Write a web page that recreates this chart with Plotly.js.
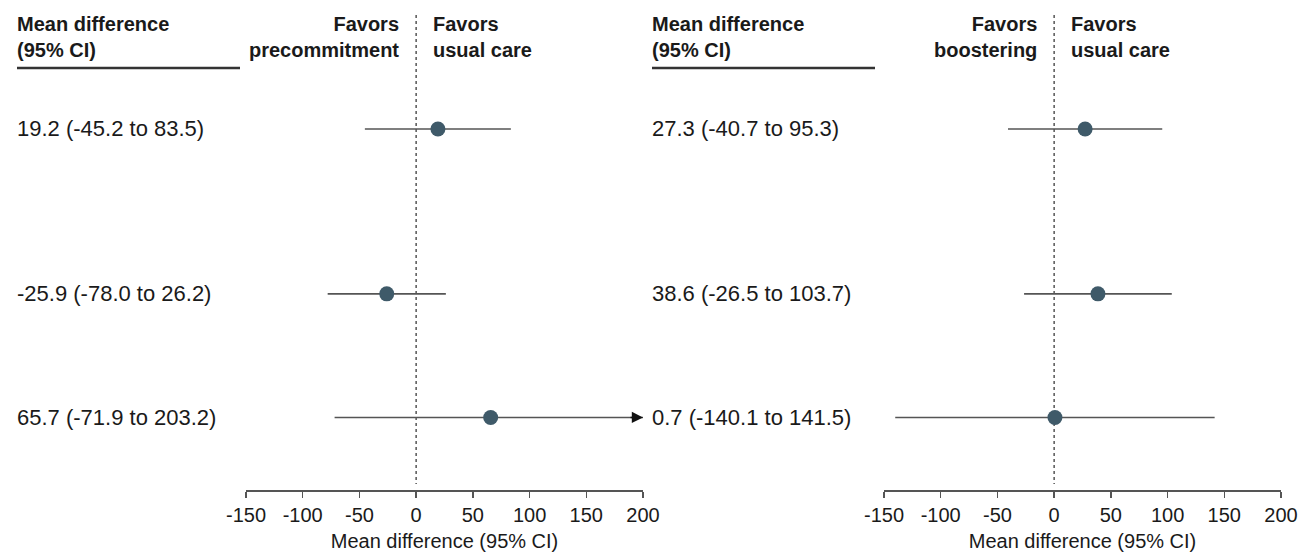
<!DOCTYPE html>
<html>
<head>
<meta charset="utf-8">
<script src="https://cdn.plot.ly/plotly-3.0.1.min.js"></script>
<style>html,body{margin:0;padding:0;background:#fff;}#chart{width:1301px;height:552px;}</style>
</head>
<body>
<div id="chart"></div>
<script>
// ---- data ----
const leftEstimate = [19.2, -25.9, 65.7];
const leftLower    = [-45.2, -78.0, -71.9];
const leftUpper    = [83.5, 26.2, 203.2];
const rightEstimate = [27.3, 38.6, 0.7];
const rightLower    = [-40.7, -26.5, -140.1];
const rightUpper    = [95.3, 103.7, 141.5];
const tickValues = [-150, -100, -50, 0, 50, 100, 150, 200];
const tickLabels = ['-150', '-100', '-50', '0', '50', '100', '150', '200'];
const leftFavors  = ['Favors<br>precommitment', 'Favors<br>usual care'];
const rightFavors = ['Favors<br>boostering', 'Favors<br>usual care'];
const headerText = 'Mean difference<br>(95% CI)';
const axisTitle = 'Mean difference (95% CI)';

// ---- layout constants ----
const W = 1301, H = 552;
const rowSlot = [0, 4, 7];           // vertical slot of each outcome row
const xMin = -150, xMax = 200;
const FONT = 'Liberation Sans, Arial, sans-serif';
const TXT = '#1a1a1a';
const DOT = '#3f5a69';
const LINE = '#555555';
const px = v => v / W;
const py = v => 1 - v / H;

function fmt(v){ return v.toFixed(1); }
function labels(est, lo, hi){ return est.map((e,i)=> fmt(e)+' ('+fmt(lo[i])+' to '+fmt(hi[i])+')'); }

function ciTrace(lo, hi, xa, ya){
  const xs = [], ys = [];
  lo.forEach((l,i)=>{ xs.push(Math.max(l,xMin), Math.min(hi[i],xMax), null); ys.push(rowSlot[i], rowSlot[i], null); });
  return {x: xs, y: ys, xaxis: xa, yaxis: ya, mode: 'lines', line: {color: LINE, width: 1.6}, hoverinfo: 'skip', showlegend: false};
}
function dotTrace(est, xa, ya){
  return {x: est, y: rowSlot.slice(0, est.length), xaxis: xa, yaxis: ya, mode: 'markers',
    marker: {color: DOT, size: 15, line: {width: 0}}, showlegend: false, cliponaxis: false};
}

const data = [
  ciTrace(leftLower, leftUpper, 'x', 'y'),
  dotTrace(leftEstimate, 'x', 'y'),
  ciTrace(rightLower, rightUpper, 'x2', 'y2'),
  dotTrace(rightEstimate, 'x2', 'y2')
];

const yRange = [8.76, -3.13];
const yDomain = [1 - 490 / H, 1];
function xAxis(domain, anchor){
  return {domain: domain, anchor: anchor, range: [xMin, xMax], showgrid: false, zeroline: false,
    showline: true, linecolor: LINE, linewidth: 1.5, ticks: 'outside', ticklen: 6, tickwidth: 1.5, tickcolor: LINE,
    tickvals: tickValues, ticktext: tickLabels, tickfont: {family: FONT, size: 20, color: TXT},
    title: {text: axisTitle, font: {family: FONT, size: 20, color: TXT}, standoff: 9}};
}
function yAxis(anchor){
  return {domain: yDomain, anchor: anchor, range: yRange, visible: false, showgrid: false, zeroline: false};
}

const annotations = [];
const shapes = [];
function panel(xa, ya, est, lo, hi, favors, textX, ulStart, ulEnd){
  const lab = labels(est, lo, hi);
  lab.forEach((t,i)=> annotations.push({xref: 'paper', yref: ya, x: px(textX), y: rowSlot[i], text: t,
    showarrow: false, xanchor: 'left', yanchor: 'middle', font: {family: FONT, size: 22, color: TXT}}));
  annotations.push({xref: 'paper', yref: 'paper', x: px(textX), y: py(37), text: '<b>'+headerText+'</b>',
    showarrow: false, xanchor: 'left', yanchor: 'middle', align: 'left', font: {family: FONT, size: 20, color: TXT}});
  annotations.push({xref: xa, yref: 'paper', x: 0, y: py(37), xshift: -15, text: '<b>'+favors[0]+'</b>',
    showarrow: false, xanchor: 'right', yanchor: 'middle', align: 'right', font: {family: FONT, size: 20, color: TXT}});
  annotations.push({xref: xa, yref: 'paper', x: 0, y: py(37), xshift: 15, text: '<b>'+favors[1]+'</b>',
    showarrow: false, xanchor: 'left', yanchor: 'middle', align: 'left', font: {family: FONT, size: 20, color: TXT}});
  shapes.push({type: 'line', xref: 'paper', yref: 'paper', x0: px(ulStart), x1: px(ulEnd), y0: py(68), y1: py(68),
    line: {color: '#333', width: 2.5}});
  shapes.push({type: 'line', xref: xa, yref: 'paper', x0: 0, x1: 0, y0: py(15), y1: py(484),
    line: {color: '#555', width: 1.5, dash: 'dot'}, layer: 'below'});
  hi.forEach((h,i)=>{ if (h > xMax) annotations.push({xref: xa, yref: ya, x: xMax, y: rowSlot[i], ax: -14, ay: 0,
    axref: 'pixel', ayref: 'pixel', showarrow: true, arrowhead: 2, arrowsize: 1.4, arrowwidth: 1.6, arrowcolor: '#111', text: ''}); });
}
panel('x', 'y', leftEstimate, leftLower, leftUpper, leftFavors, 15, 17, 240);
panel('x2', 'y2', rightEstimate, rightLower, rightUpper, rightFavors, 650, 652, 875);

const layout = {
  width: W, height: H, margin: {l: 0, r: 0, t: 0, b: 0},
  paper_bgcolor: '#fff', plot_bgcolor: 'rgba(0,0,0,0)', showlegend: false,
  xaxis: xAxis([px(246), px(643)], 'y'),
  yaxis: yAxis('x'),
  xaxis2: xAxis([px(884), px(1281)], 'y2'),
  yaxis2: yAxis('x2'),
  annotations: annotations, shapes: shapes,
  font: {family: FONT, color: TXT}
};
Plotly.newPlot('chart', data, layout, {displayModeBar: false, staticPlot: true});
</script>
</body>
</html>
